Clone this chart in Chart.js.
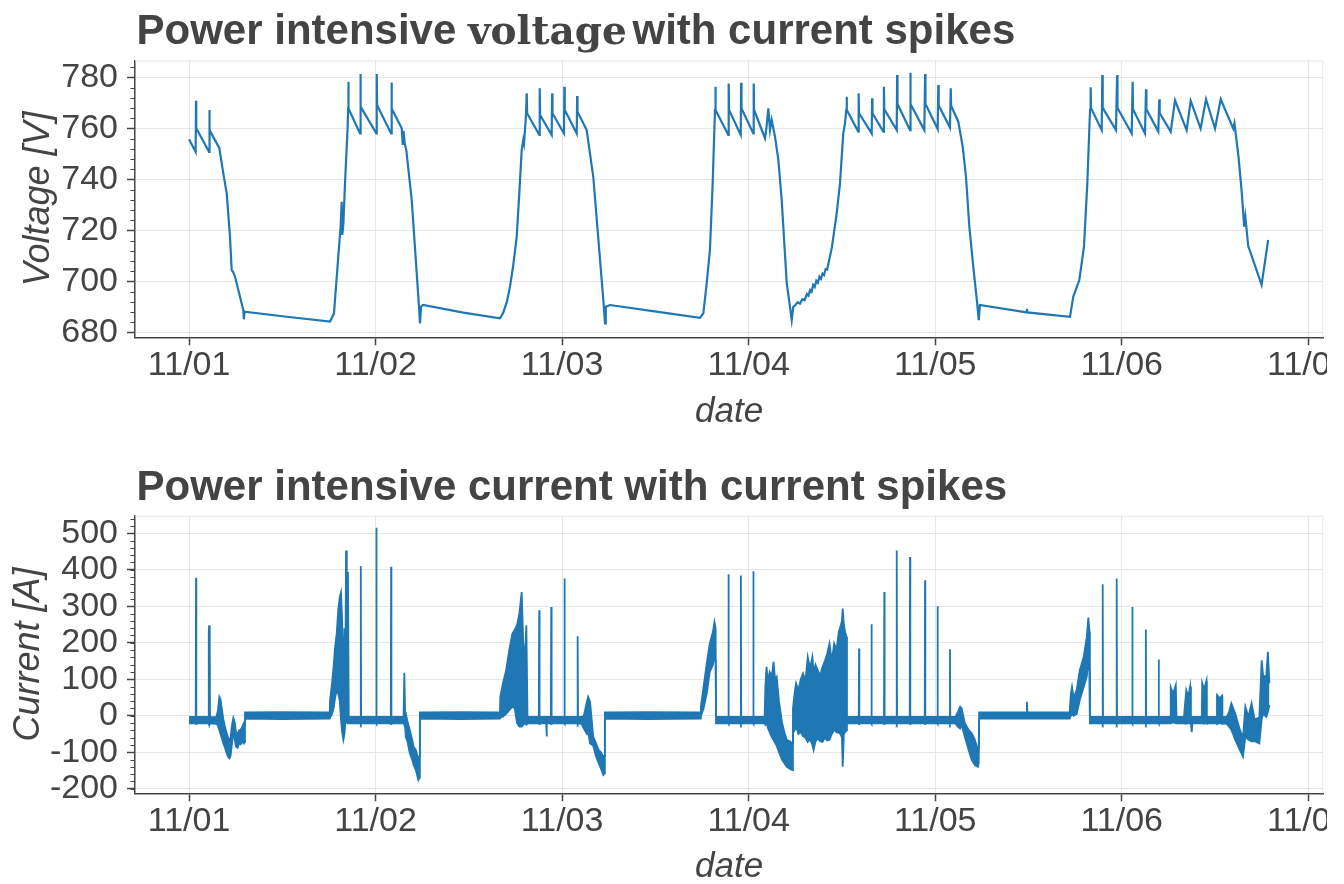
<!DOCTYPE html>
<html>
<head>
<meta charset="utf-8">
<title>Power intensive voltage and current</title>
<script src="https://cdn.jsdelivr.net/npm/chart.js@4.4.0/dist/chart.umd.min.js"></script>
<style>
  html, body { margin: 0; padding: 0; background: #ffffff; overflow: hidden; }
  #page { position: relative; width: 1344px; height: 884px; overflow: hidden; background: #ffffff; }
  .panel { position: absolute; left: 0; width: 1327px; height: 446px; overflow: hidden; }
  canvas { display: block; }
</style>
</head>
<body>
<div id="page">
  <div class="panel" style="top:0px"><canvas id="voltageChart" width="1400" height="446"></canvas></div>
  <div class="panel" style="top:455px"><canvas id="currentChart" width="1400" height="446"></canvas></div>
</div>
<script>
// ---- Data (time axis in hours since 11/01 00:00) ----
const dayTicks = [0, 24, 48, 72, 96, 120, 144];
const dayLabels = ['11/01', '11/02', '11/03', '11/04', '11/05', '11/06', '11/07'];
const voltageTicks = [680, 700, 720, 740, 760, 780];
const currentTicks = [-200, -100, 0, 100, 200, 300, 400, 500];

// Battery voltage [V]
const voltageHours = [
  0.0, 0.85, 0.9, 0.93, 2.58, 2.62, 2.66, 3.9, 4.41, 4.85, 5.27, 5.49, 5.7, 5.92, 6.99, 7.05, 7.15, 12.57, 18.14,
  18.65, 19.2, 19.5, 19.64, 19.72, 19.85, 20.07, 20.4, 20.47, 20.5, 20.53, 22.0, 22.05, 22.1, 24.1, 24.15, 24.2,
  26.0, 26.05, 26.1, 27.36, 27.5, 27.6, 27.75, 27.95, 28.65, 29.5, 29.72, 29.85, 30.1, 35.3, 40.0,
  40.4, 40.9, 41.3, 41.7, 42.16, 42.5, 42.8, 43.0, 43.1, 43.35, 43.45, 43.5, 45.07, 45.12, 45.17, 46.66, 46.71, 46.76,
  48.24, 48.29, 48.34, 49.88, 49.93, 49.98, 51.16, 52.01, 53.3, 53.52, 53.62, 54.16, 59.9, 65.74,
  66.17, 66.6, 67.02, 67.37, 67.67, 67.72, 67.76, 69.38, 69.43, 69.48, 70.98, 71.03, 71.08, 72.6, 72.65, 72.7,
  74.1, 74.3, 74.53, 74.75, 74.96, 75.39, 75.82, 76.25, 76.9, 77.32, 77.54, 77.74,
  78.0, 78.3, 78.6, 78.9, 79.2, 79.5, 79.7, 79.9, 80.1, 80.3, 80.5, 80.7, 80.9, 81.1, 81.3, 81.5, 81.7, 81.9,
  82.1, 82.4, 82.7, 82.9, 83.3, 83.75, 84.17, 84.4, 84.55, 84.6, 84.65,
  86.1, 86.15, 86.2, 87.83, 87.88, 87.93, 89.32, 89.4, 89.45, 91.05, 91.1, 91.15, 92.76, 92.8, 92.85,
  94.6, 94.7, 94.75, 96.32, 96.4, 96.45, 97.9, 98.0, 98.05, 98.97, 99.54, 99.96, 100.39, 100.9, 101.4, 101.6, 101.75,
  107.75, 107.8, 107.85, 113.34,
  113.77, 114.54, 115.14, 115.57, 115.92, 116.0, 116.05, 117.42, 117.5, 117.55, 119.26, 119.4, 119.45,
  121.28, 121.4, 121.45, 122.99, 123.12, 123.17, 124.7, 124.83, 124.88, 126.3, 126.85, 128.35, 128.87,
  130.15, 130.84, 132.0, 132.73, 134.35, 134.5, 135.02, 135.45, 135.75, 135.9, 136.28, 136.45, 137.99, 138.4, 138.83
];
const voltageValues = [
  755.7, 750.8, 770.8, 760.0, 750.8, 767.2, 759.3, 752.2, 742.3, 734.5, 717.5, 704.4, 703.5, 701.8, 688.7, 685.1, 688.1, 686.1, 684.2,
  687.4, 709.6, 721.4, 731.2, 718.2, 722.0, 738.4, 760.0, 767.8, 778.3, 767.8, 758.0, 781.3, 768.5, 758.0, 781.3, 769.1,
  758.0, 778.0, 767.8, 760.0, 753.5, 759.0, 754.0, 751.5, 731.9, 694.0, 683.5, 690.0, 690.7, 687.7, 685.5,
  687.5, 692.0, 698.0, 706.0, 717.5, 735.0, 751.5, 755.4, 754.0, 765.0, 773.7, 765.9, 757.4, 775.7, 765.2, 757.4, 773.7, 765.9,
  758.0, 776.3, 767.2, 758.0, 772.7, 766.5, 759.3, 741.0, 692.7, 683.5, 690.0, 690.7, 688.2, 685.7,
  687.4, 699.2, 712.3, 738.4, 767.2, 776.3, 767.2, 757.4, 777.6, 767.2, 757.4, 777.9, 767.8, 758.0, 777.6, 767.2,
  756.1, 760.6, 767.8, 759.3, 763.3, 756.7, 747.6, 731.9, 699.2, 690.0, 684.8, 690.0,
  690.6, 691.8, 691.2, 693.0, 692.6, 695.0, 694.4, 696.6, 695.9, 698.6, 697.8, 700.2, 699.4, 701.8, 701.0, 703.0, 702.4, 704.8,
  704.6, 708.9, 713.2, 717.5, 726.0, 738.4, 758.0, 762.0, 767.2, 772.4, 767.2,
  758.7, 773.7, 765.9, 758.0, 771.8, 765.9, 758.7, 776.3, 767.5, 759.3, 780.9, 769.5, 759.3, 781.8, 769.5,
  759.3, 781.3, 769.5, 759.7, 777.0, 769.0, 760.3, 775.7, 768.9, 762.6, 752.8, 741.0, 721.4, 705.7, 691.4, 684.8, 690.7,
  687.8, 689.2, 687.8, 686.1,
  694.0, 700.5, 713.6, 738.4, 767.2, 776.1, 768.0, 759.3, 780.9, 768.0, 759.3, 780.9, 768.0,
  758.0, 778.3, 767.5, 758.0, 775.3, 767.5, 758.7, 771.4, 766.0, 758.7, 771.0, 759.3, 770.8,
  759.9, 771.4, 759.9, 771.4, 759.9, 762.0, 748.9, 734.5, 721.4, 725.3, 713.6, 712.3, 698.6, 707.1, 716.2
];

// Battery current [A], stored as min/max envelope per time step
const currentHours = [
  0.0, 0.86, 0.9, 0.94, 2.5, 2.54, 2.6, 2.66, 2.7, 3.5, 3.7, 3.9, 4.05, 4.2, 4.4, 4.6, 4.8, 5.0, 5.2, 5.35, 5.5,
  5.7, 5.85, 6.05, 6.25, 6.45, 6.65, 6.85, 7.05, 7.15, 7.2, 12.0, 18.1,
  18.15, 18.4, 18.6, 18.8, 19.0, 19.2, 19.4, 19.55, 19.7, 19.86, 20.0, 20.1, 20.2, 20.3, 20.45, 20.55,
  22.06, 22.1, 22.14, 24.06, 24.1, 24.14, 25.96, 26.0, 26.04, 27.6, 27.7, 27.8, 27.9, 28.1, 28.4, 28.7, 28.9,
  29.2, 29.5, 29.65, 29.7, 35.0, 40.0,
  40.05, 40.4, 40.8, 41.2, 41.6, 41.9, 42.2, 42.5, 42.8, 43.0, 43.2, 43.4, 43.55, 45.0, 45.05, 45.1,
  45.95, 46.0, 46.05, 46.55, 46.6, 46.65, 48.25, 48.3, 48.35, 49.95, 50.0, 50.05, 50.5, 50.8, 51.2, 51.35,
  51.6, 52.0, 52.35, 52.7, 53.0, 53.3, 53.45, 53.5, 59.0, 65.75,
  65.85, 66.2, 66.6, 67.0, 67.4, 67.6, 67.75, 67.8, 69.36, 69.4, 69.44, 70.96, 71.0, 71.04, 72.56, 72.6, 72.64,
  74.05, 74.15, 74.3, 74.5, 74.7, 75.0, 75.2, 75.4, 75.6, 75.9, 76.3, 76.6, 76.9, 77.3, 77.6,
  77.7, 77.9, 78.1, 78.4, 78.7, 79.0, 79.3, 79.6, 79.9, 80.2, 80.35, 80.6, 80.9, 81.2, 81.5, 81.8, 82.1, 82.4,
  82.7, 83.0, 83.3, 83.6, 83.8, 84.0, 84.1, 84.25, 84.4, 84.6, 84.65,
  86.16, 86.2, 86.24, 87.76, 87.8, 87.84, 89.41, 89.45, 89.49, 91.01, 91.05, 91.09, 92.72, 92.76, 92.8,
  94.65, 94.69, 94.73, 96.26, 96.3, 96.34, 97.86, 97.9, 97.94, 98.6, 98.9, 99.2, 99.4, 99.8, 100.3, 100.7,
  101.1, 101.5, 101.6, 101.65, 107.74, 107.8, 107.86, 113.3,
  113.45, 113.6, 113.8, 114.2, 114.6, 115.1, 115.5, 115.7, 115.85, 115.9, 117.51, 117.55, 117.59,
  119.31, 119.35, 119.39, 121.32, 121.36, 121.4, 123.06, 123.1, 123.14, 124.71, 124.75, 124.79,
  126.25, 126.3, 126.6, 126.95, 127.05, 128.0, 128.3, 128.55, 128.8, 128.9, 129.0, 129.1,
  130.3, 130.35, 130.6, 130.9, 130.95, 132.2, 132.25, 132.6, 132.9, 132.95,
  133.5, 133.8, 134.1, 134.6, 135.2, 135.6, 135.9, 136.3, 136.7, 137.1, 137.7, 138.0, 138.2, 138.6, 138.8, 139.0
];
const currentMin = [
  -21, -21, -23, -21, -21, -23, -16, -23, -21, -22, -26, -40, -50, -60, -75, -86, -100, -112, -117, -110, -82,
  -42, -62, -85, -88, -74, -78, -70, -76, -72, -8, -9, -8,
  -5, 5, 20, 50, 70, 60, 40, -10, -45, -66, -50, -20, -15, -18, -20, -21,
  -21, -23, -21, -21, -23, -21, -21, -23, -21, -21, -25, -30, -60, -70, -103, -120, -135,
  -150, -176, -170, -8, -9, -8,
  -5, -2, 5, 15, 25, 20, -20, -30, -30, -25, -20, -25, -21, -21, -23, -21,
  -21, -57, -21, -21, -23, -21, -21, -23, -21, -21, -23, -21, -22, -35, -50, -45,
  -76, -82, -110, -130, -145, -162, -158, -8, -9, -8,
  -2, 20, 60, 120, 140, 160, 150, -21, -21, -23, -21, -21, -23, -21, -21, -23, -21,
  -21, -25, -20, -35, -45, -60, -66, -75, -82, -100, -121, -130, -140, -145, -149,
  -25, -40, -30, -50, -45, -56, -60, -72, -65, -80, -94, -70, -62, -70, -72, -60, -68, -66,
  -50, -38, -45, -47, -50, -60, -140, -50, -45, -40, -21,
  -21, -23, -21, -21, -23, -21, -21, -23, -21, -21, -23, -21, -21, -23, -21,
  -21, -23, -21, -21, -23, -21, -21, -23, -21, -21, -30, -35, -25, -57, -94, -121,
  -135, -140, -130, -8, -8, -6, -8, -8,
  0, 5, 0, 5, 43, 79, 107, 152, 120, -21, -21, -23, -21,
  -21, -23, -21, -21, -23, -21, -21, -23, -21, -21, -23, -21,
  -21, -20, -18, -20, -21, -21, -22, -20, -22, -21, -45, -21,
  -21, -20, -22, -20, -21, -21, -22, -20, -22, -21,
  -22, -30, -38, -66, -94, -112, -57, -66, -70, -70, -76, -10, 5, -3, 10, 29
];
const currentMax = [
  -3, -3, 378, -3, -3, 236, 248, 232, -3, -4, 12, 52, 45, 22, -8, -28, -45, -58, -70, -60, -30,
  -6, -15, -45, -50, -40, -38, -30, -20, -24, 9, 10, 9,
  43, 90, 134, 190, 225, 290, 326, 338, 260, 90, 240, 60, 453, 40, 394, -3,
  -3, 410, -3, -3, 515, -3, -3, 408, -3, -3, 118, 10, 5, -15, -39, -65, -85,
  -95, -121, -110, 9, 10, 9,
  52, 90, 125, 180, 225, 235, 248, 280, 339, 200, 150, 248, -3, -3, 289, -3,
  -3, -3, -3, -3, 298, -3, -3, 376, -3, -3, 218, -3, -3, 0, 40, 52,
  38, -57, -75, -94, -100, -112, -110, 9, 10, 9,
  25, 79, 143, 198, 230, 257, 240, -3, -3, 388, -3, -3, 384, -3, -3, 396, -3,
  -3, 80, 134, 90, 120, 110, 148, 100, 107, 40, -20, -45, -66, -70, -76,
  20, 60, 89, 70, 100, 116, 95, 161, 130, 161, 120, 140, 124, 110, 134, 150, 170, 198,
  150, 198, 180, 230, 244, 260, 294, 250, 230, 216, -3,
  -3, 184, -3, -3, 251, -3, -3, 339, -3, -3, 453, -3, -3, 435, -3,
  -3, 371, -3, -3, 300, -3, -3, 182, -3, -3, 10, 25, 20, -20, -39, -48,
  -66, -94, -90, 9, 9, 38, 9, 9,
  60, 79, 50, 70, 125, 161, 216, 269, 230, -3, -3, 360, -3,
  -3, 376, -3, -3, 298, -3, -3, 236, -3, -3, 154, -3,
  -3, 78, 60, 84, -3, -3, 70, 52, 80, -3, -3, -3,
  -3, 90, 72, 96, -3, -3, 57, 48, 55, -3,
  -3, 10, 34, 6, -39, -60, 25, -3, 34, -10, -5, 152, 107, 110, 175, 89
];

// ---- Styling ----
const TEXT = '#444444';
const GRID = '#e6e6e6';
const AXIS = '#444444';
const BLUE = '#1f77b4';
const SANS = '"Liberation Sans", Arial, sans-serif';

Chart.defaults.font.family = SANS;
Chart.defaults.color = TEXT;

// Title made of runs in different fonts
const titleRuns = {
  id: 'titleRuns',
  afterDraw(chart, args, opts) {
    const ctx = chart.ctx;
    ctx.save();
    ctx.fillStyle = opts.color;
    ctx.textBaseline = 'alphabetic';
    ctx.textAlign = 'left';
    let x = opts.x;
    for (const run of opts.runs) {
      ctx.font = run.font;
      ctx.fillText(run.text, x, opts.baseline);
      x += ctx.measureText(run.text).width + (run.gapAfter || 0);
    }
    ctx.restore();
  }
};

// Light top/right frame around the plot area
const plotFrame = {
  id: 'plotFrame',
  beforeDatasetsDraw(chart) {
    const { ctx, chartArea: a } = chart;
    ctx.save();
    ctx.strokeStyle = GRID;
    ctx.lineWidth = 1;
    ctx.beginPath();
    ctx.moveTo(a.left, a.top + 0.5);
    ctx.lineTo(a.right - 0.5, a.top + 0.5);
    ctx.lineTo(a.right - 0.5, a.bottom);
    ctx.stroke();
    ctx.restore();
  }
};

// Minor tick marks on the y axis
const minorTicks = {
  id: 'minorTicks',
  afterDraw(chart, args, opts) {
    const s = chart.scales.y;
    const ctx = chart.ctx;
    ctx.save();
    ctx.strokeStyle = AXIS;
    ctx.lineWidth = 1.2;
    ctx.beginPath();
    const start = Math.ceil(s.min / opts.step) * opts.step;
    for (let v = start; v <= s.max; v += opts.step) {
      const py = Math.round(s.getPixelForValue(v)) + 0.5;
      ctx.moveTo(s.right - 4.5, py);
      ctx.lineTo(s.right, py);
    }
    ctx.stroke();
    ctx.restore();
  }
};

function buildOptions(cfg) {
  return {
    responsive: false,
    animation: false,
    events: [],
    layout: { padding: { top: cfg.areaTop, left: 0, right: 1400 - 1323.3, bottom: 0 } },
    plugins: {
      legend: { display: false },
      tooltip: { enabled: false },
      titleRuns: { x: 136.5, baseline: cfg.titleBaseline, color: TEXT, runs: cfg.titleRuns },
      minorTicks: { step: cfg.minorStep }
    },
    scales: {
      x: {
        type: 'linear',
        min: -6.95,
        max: 145.93,
        afterBuildTicks: (scale) => { scale.ticks = dayTicks.map(v => ({ value: v })); },
        afterFit: (scale) => { scale.height = 446 - cfg.areaBottom; },
        ticks: {
          autoSkip: false, maxRotation: 0, padding: 0,
          font: { size: 34 }, color: TEXT,
          callback: (v, i) => dayLabels[i]
        },
        grid: { color: GRID, lineWidth: 1, tickLength: 8, tickColor: AXIS, tickWidth: 1.5 },
        border: { display: true, color: AXIS, width: 1.5 },
        title: {
          display: true, text: 'date', color: TEXT,
          font: { size: 35, style: 'italic' },
          padding: { top: 0, bottom: 12.5 }
        }
      },
      y: {
        type: 'linear',
        min: cfg.yMin,
        max: cfg.yMax,
        afterBuildTicks: (scale) => { scale.ticks = cfg.yTicks.map(v => ({ value: v })); },
        afterFit: (scale) => { scale.width = 135; },
        ticks: { autoSkip: false, padding: 9, font: { size: 34 }, color: TEXT },
        grid: { color: GRID, lineWidth: 1, tickLength: 8, tickColor: AXIS, tickWidth: 1.5 },
        border: { display: true, color: AXIS, width: 1.5 },
        title: {
          display: true, text: cfg.yTitle, color: TEXT,
          font: { size: 36, style: 'italic' },
          padding: { top: cfg.yTitlePad, bottom: 0 }
        }
      }
    }
  };
}

// ---- Voltage panel ----
new Chart(document.getElementById('voltageChart'), {
  type: 'line',
  data: {
    datasets: [{
      data: voltageHours.map((h, i) => ({ x: h, y: voltageValues[i] })),
      borderColor: BLUE,
      borderWidth: 2.2,
      pointRadius: 0,
      tension: 0,
      fill: false
    }]
  },
  options: buildOptions({
    areaTop: 60.5, areaBottom: 337.3, titleBaseline: 44.3,
    yMin: 678.04, yMax: 786.6, yTicks: voltageTicks, minorStep: 4,
    yTitle: 'Voltage [V]', yTitlePad: 17,
    titleRuns: [
      { text: 'Power intensive ', font: 'bold 42px ' + SANS },
      { text: 'voltage', font: 'bold 39px "DejaVu Serif", serif', gapAfter: -6 },
      { text: ' with current spikes', font: 'bold 42px ' + SANS }
    ]
  }),
  plugins: [titleRuns, plotFrame, minorTicks]
});

// ---- Current panel (min/max envelope, filled between) ----
new Chart(document.getElementById('currentChart'), {
  type: 'line',
  data: {
    datasets: [
      {
        data: currentHours.map((h, i) => ({ x: h, y: currentMin[i] })),
        borderColor: BLUE, borderWidth: 1.8, pointRadius: 0, tension: 0, fill: false
      },
      {
        data: currentHours.map((h, i) => ({ x: h, y: currentMax[i] })),
        borderColor: BLUE, borderWidth: 1.8, pointRadius: 0, tension: 0,
        fill: '-1', backgroundColor: BLUE
      }
    ]
  },
  options: buildOptions({
    areaTop: 60.7, areaBottom: 338.3, titleBaseline: 45,
    yMin: -212.6, yMax: 548.2, yTicks: currentTicks, minorStep: 20,
    yTitle: 'Current [A]', yTitlePad: 7,
    titleRuns: [
      { text: 'Power intensive current with current spikes', font: 'bold 42px ' + SANS }
    ]
  }),
  plugins: [titleRuns, plotFrame, minorTicks]
});
</script>
</body>
</html>
